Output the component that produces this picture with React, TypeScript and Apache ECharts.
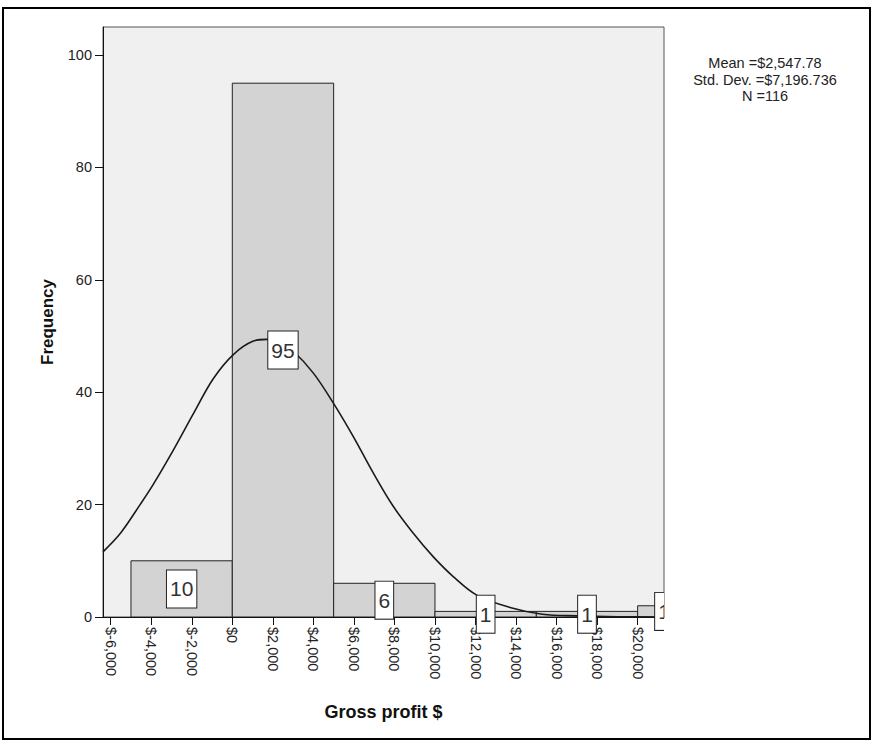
import React, { useEffect, useRef } from "react";
import * as echarts from "echarts";

// ---- data ----
const binEdges = [-5000, 0, 5000, 10000, 15000, 20000, 25000];
const binCounts = [10, 95, 6, 1, 1, 2];
const binLabels = ["10", "95", "6", "1", "1", "1"];

const curveX = [-6380, -5500, -4550, -3900, -2910, -1920, -940, 50, 1040, 1700, 2350, 3010, 4000, 4980, 5970, 6960, 7940, 8930, 9920, 10900, 12060, 13700, 15300, 17000, 19000, 21300];
const curveY = [11.6, 15.0, 20.0, 23.6, 29.7, 36.2, 42.4, 46.7, 49.1, 49.4, 48.8, 47.3, 43.4, 38.1, 32.1, 25.6, 19.7, 14.9, 10.7, 7.2, 3.9, 1.7, 0.5, 0.2, 0.05, 0.01];

const xTicks = [-6000, -4000, -2000, 0, 2000, 4000, 6000, 8000, 10000, 12000, 14000, 16000, 18000, 20000];
const yTicks = [0, 20, 40, 60, 80, 100];

const statLines = ["Mean =$2,547.78", "Std. Dev. =$7,196.736", "N =116"];

const X_MIN = -6380;
const X_MAX = 21300;
const Y_MAX = 105;

const FONT = "'Liberation Sans', Arial, sans-serif";

export default function App() {
  const ref = useRef<HTMLDivElement>(null);

  useEffect(() => {
    if (!ref.current) return;
    const chart = echarts.init(ref.current, null, { renderer: "svg" });

    const barData = binCounts.map((c, i) => [binEdges[i], binEdges[i + 1], c]);
    const curveData = curveX.map((x, i) => [x, curveY[i]]);

    const option: any = {
      animation: false,
      backgroundColor: "#ffffff",
      grid: {
        left: 103,
        right: 210,
        top: 27,
        bottom: 124,
        show: true,
        backgroundColor: "#f0f0f0",
        borderColor: "#555",
        borderWidth: 1,
        containLabel: false,
      },
      xAxis: {
        type: "value",
        min: X_MIN,
        max: X_MAX,
        name: "Gross profit $",
        nameLocation: "middle",
        nameGap: 86,
        nameTextStyle: { fontFamily: FONT, fontSize: 18, fontWeight: "bold", color: "#111" },
        splitLine: { show: false },
        axisLine: { show: true, onZero: false, lineStyle: { color: "#111", width: 1 } },
        axisTick: { show: true, length: 8, customValues: xTicks, lineStyle: { color: "#111" } },
        axisLabel: {
          customValues: xTicks,
          rotate: -90,
          margin: 10,
          fontFamily: FONT,
          fontSize: 14.5,
          color: "#222",
          formatter: (v: number) => "$" + v.toLocaleString("en-US"),
        },
      },
      yAxis: {
        type: "value",
        min: 0,
        max: Y_MAX,
        name: "Frequency",
        nameLocation: "middle",
        nameGap: 47,
        nameTextStyle: { fontFamily: FONT, fontSize: 17, fontWeight: "bold", color: "#111" },
        splitLine: { show: false },
        axisLine: { show: true, onZero: false, lineStyle: { color: "#111", width: 1 } },
        axisTick: { show: true, length: 8, customValues: yTicks, lineStyle: { color: "#111" } },
        axisLabel: {
          customValues: yTicks,
          margin: 11,
          fontFamily: FONT,
          fontSize: 14.5,
          color: "#222",
        },
      },
      series: [
        {
          type: "custom",
          z: 1,
          clip: true,
          data: barData,
          renderItem: (params: any, api: any) => {
            const x0 = api.value(0);
            const x1 = api.value(1);
            const v = api.value(2);
            const p0 = api.coord([x0, v]);
            const p1 = api.coord([x1, 0]);
            return {
              type: "rect",
              shape: { x: p0[0], y: p0[1], width: p1[0] - p0[0], height: p1[1] - p0[1] },
              style: { fill: "#d3d3d3", stroke: "#222", lineWidth: 1 },
            };
          },
        },
        {
          type: "line",
          z: 2,
          data: curveData,
          smooth: 0.35,
          symbol: "none",
          clip: true,
          lineStyle: { color: "#1a1a1a", width: 1.6 },
        },
        {
          type: "custom",
          z: 3,
          clip: false,
          data: barData,
          renderItem: (params: any, api: any) => {
            const x0 = api.value(0);
            const x1 = api.value(1);
            const v = api.value(2);
            const cx = Math.min((x0 + x1) / 2, X_MAX);
            const p = api.coord([cx, v / 2]);
            const cs = params.coordSys;
            return {
              type: "group",
              clipPath: {
                type: "rect",
                shape: { x: cs.x, y: 0, width: cs.width, height: 741 },
              },
              children: [
                {
                  type: "text",
                  x: p[0],
                  y: p[1],
                  style: {
                    text: binLabels[params.dataIndex],
                    fontFamily: FONT,
                    fontSize: 21,
                    fill: "#333",
                    align: "center",
                    verticalAlign: "middle",
                    backgroundColor: "#ffffff",
                    borderColor: "#222",
                    borderWidth: 1,
                    padding: [8, 3],
                    lineHeight: 21,
                  },
                },
              ],
            };
          },
        },
      ],
      graphic: [
        {
          type: "rect",
          shape: { x: 3, y: 8, width: 867, height: 731 },
          style: { fill: "none", stroke: "#000", lineWidth: 2 },
          silent: true,
        },
        ...statLines.map((t, i) => ({
          type: "text",
          x: 765,
          y: 63 + i * 16.5,
          style: {
            text: t,
            fontFamily: FONT,
            fontSize: 14.5,
            fill: "#222",
            align: "center",
            verticalAlign: "middle",
          },
        })),
      ],
    };

    chart.setOption(option);
    return () => chart.dispose();
  }, []);

  return (
    <div
      ref={ref}
      style={{ position: "fixed", left: 0, top: 0, width: 874, height: 741, background: "#fff" }}
    />
  );
}
